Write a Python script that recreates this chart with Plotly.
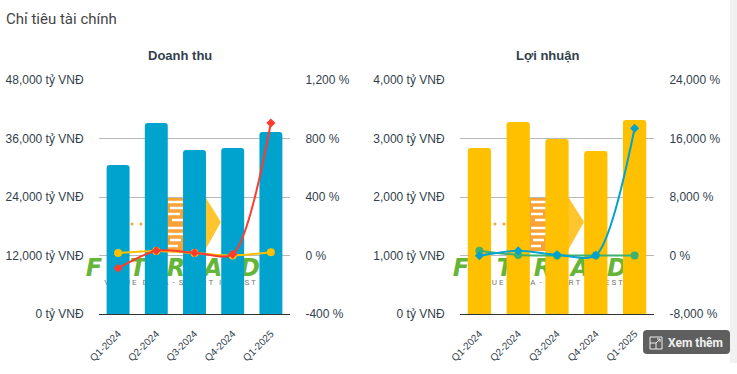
import plotly.graph_objects as go

W, H = 737, 374

categories = ["Q1-2024", "Q2-2024", "Q3-2024", "Q4-2024", "Q1-2025"]
revenue = [30560, 39180, 33640, 34050, 37330]
revenue_yoy_a = [17, 31, 17, 0, 22]
revenue_yoy_b = [-87, 33, 19, 8, 906]
profit = [2838, 3282, 2991, 2786, 3316]
profit_yoy_a = [656, 68, 0, 0, 0]
profit_yoy_b = [-30, 640, 90, 30, 17395]

rev_ticks = [0, 12000, 24000, 36000, 48000]
rev_ticktext = ["0 tỷ VNĐ", "12,000 tỷ VNĐ", "24,000 tỷ VNĐ", "36,000 tỷ VNĐ", "48,000 tỷ VNĐ"]
rev_pct_ticks = [-400, 0, 400, 800, 1200]
rev_pct_ticktext = ["-400 %", "0 %", "400 %", "800 %", "1,200 %"]
prof_ticks = [0, 1000, 2000, 3000, 4000]
prof_ticktext = ["0 tỷ VNĐ", "1,000 tỷ VNĐ", "2,000 tỷ VNĐ", "3,000 tỷ VNĐ", "4,000 tỷ VNĐ"]
prof_pct_ticks = [-8000, 0, 8000, 16000, 24000]
prof_pct_ticktext = ["-8,000 %", "0 %", "8,000 %", "16,000 %", "24,000 %"]

BLUE, AMBER, RED, GREEN = "#00A2CE", "#FFC000", "#FF3B30", "#3DB16F"
INK, GRID = "#333F4D", "#B8B8B8"
FONT = "Roboto"
AXFONT = "Liberation Sans"


def px(x):
    return x / W


def py(y):
    return 1 - y / H


fig = go.Figure()
lw = 2


def panel(xa, ya, ya2, bars, bar_col, a, a_col, a_sym, b, b_col, b_sym):
    fig.add_trace(go.Bar(x=categories, y=bars, xaxis=xa, yaxis=ya, width=0.6,
                         marker=dict(color=bar_col, cornerradius=3, line_width=0)))
    fig.add_trace(go.Scatter(x=categories, y=a, xaxis=xa, yaxis=ya2, mode="lines+markers",
                             line=dict(color=a_col, width=lw, shape="spline", smoothing=0.75),
                             marker=dict(color=a_col, size=8, symbol=a_sym)))
    fig.add_trace(go.Scatter(x=categories, y=b, xaxis=xa, yaxis=ya2, mode="lines+markers",
                             line=dict(color=b_col, width=lw, shape="spline", smoothing=0.75),
                             marker=dict(color=b_col, size=7, symbol=b_sym)))


panel("x", "y", "y2", revenue, BLUE, revenue_yoy_a, AMBER, "circle", revenue_yoy_b, RED, "diamond")
panel("x2", "y3", "y4", profit, AMBER, profit_yoy_a, GREEN, "circle", profit_yoy_b, BLUE, "diamond")

tick = dict(size=12, family=AXFONT, color=INK)
xcommon = dict(type="category", showgrid=False, zeroline=False, showline=True, linecolor="#333333",
               linewidth=1, ticks="outside", ticklen=9, tickcolor="rgba(0,0,0,0)", tickangle=-45,
               tickfont=dict(size=10, family=AXFONT, color=INK))
ycommon = dict(zeroline=False, showline=False, ticks="outside", ticklen=12,
               tickcolor="rgba(0,0,0,0)", tickfont=tick)
ydom = [py(314), py(80)]


def logo(tipdx, text_dx):
    shapes = []
    shapes.append(dict(type="rect", xref="paper", yref="paper", layer="below",
                       x0=px(150 + tipdx), x1=px(192 + tipdx), y0=py(198), y1=py(251),
                       fillcolor="#F9A237", line_width=0))
    shapes.append(dict(type="path", xref="paper", yref="paper", layer="below",
                       path=f"M {px(192 + tipdx)} {py(198)} L {px(206 + tipdx)} {py(198)} "
                            f"L {px(221 + tipdx)} {py(222)} L {px(204 + tipdx)} {py(252)} "
                            f"L {px(192 + tipdx)} {py(252)} Z",
                       fillcolor="#FFC52E", line_width=0))
    for y, x0, x1 in [(202, 168, 183), (208, 170, 183), (214, 168, 180), (220, 172, 183),
                      (228, 168, 183), (234, 168, 183), (240, 170, 181), (246, 168, 178)]:
        shapes.append(dict(type="line", xref="paper", yref="paper", layer="below",
                           x0=px(x0 + tipdx), x1=px(x1 + tipdx), y0=py(y), y1=py(y),
                           line=dict(color="white", width=2.5)))
    for x in (132, 141):
        shapes.append(dict(type="circle", xref="paper", yref="paper", layer="below",
                           x0=px(x - 1.5 + tipdx), x1=px(x + 1.5 + tipdx), y0=py(222.5), y1=py(225.5),
                           fillcolor="#F9A237", line_width=0))
    for x, ch in [(94, "F"), (138, "T"), (176, "R"), (213, "A"), (250, "D"), (268, "E")]:
        shapes.append(dict(type="rect", xref="paper", yref="paper", layer="below",
                           x0=px(x - 22 + text_dx), x1=px(x + 22 + text_dx), y0=py(257), y1=py(275),
                           line_width=0, fillcolor="rgba(0,0,0,0)",
                           label=dict(text=f"<b><i>{ch}</i></b>", xanchor="center", yanchor="middle",
                                      textposition="middle center",
                                      font=dict(size=24, family="DejaVu Sans", color="#66B53B"))))
    shapes.append(dict(type="rect", xref="paper", yref="paper", layer="below",
                       x0=px(95 + text_dx), x1=px(265 + text_dx), y0=py(276), y1=py(287),
                       line_width=0, fillcolor="rgba(0,0,0,0)",
                       label=dict(text="V A L U E   D A T A  -  S M A R T   I N V E S T",
                                  xanchor="center", yanchor="middle", textposition="middle center",
                                  font=dict(size=8, family=FONT, color="#777777"))))
    return shapes


shapes = logo(0, 0) + logo(363, 367)
shapes.append(dict(type="rect", xref="paper", yref="paper", layer="below",
                   x0=px(730), x1=1, y0=py(363), y1=1, fillcolor="#F1F1F1", line_width=0))
# Xem thêm button
bl, br, bt, bb, r = 643, 730, 330, 354, 4
shapes.append(dict(type="path", xref="paper", yref="paper", layer="above", fillcolor="#5F5F5F", line_width=0,
                   path=f"M {px(bl + r)} {py(bt)} L {px(br - r)} {py(bt)} Q {px(br)} {py(bt)} {px(br)} {py(bt + r)} "
                        f"L {px(br)} {py(bb - r)} Q {px(br)} {py(bb)} {px(br - r)} {py(bb)} "
                        f"L {px(bl + r)} {py(bb)} Q {px(bl)} {py(bb)} {px(bl)} {py(bb - r)} "
                        f"L {px(bl)} {py(bt + r)} Q {px(bl)} {py(bt)} {px(bl + r)} {py(bt)} Z"))
icon = [(650, 343, 650, 337), (650, 337, 662, 337), (662, 337, 662, 349), (662, 349, 656, 349),
        (650, 343, 656, 343), (656, 343, 656, 349), (656, 349, 650, 349), (650, 349, 650, 343),
        (656, 343, 660, 339), (657, 339, 660, 339), (660, 339, 660, 342)]
for x0, y0, x1, y1 in icon:
    shapes.append(dict(type="line", xref="paper", yref="paper", layer="above",
                       x0=px(x0), x1=px(x1), y0=py(y0), y1=py(y1), line=dict(color="#EDEDED", width=1)))

annotations = [
    dict(text="Chỉ tiêu tài chính", x=px(5), y=py(19), xanchor="left", yanchor="middle",
         font=dict(size=15, family=FONT, color="#444444")),
    dict(text="<b>Doanh thu</b>", x=px(180), y=py(56), xanchor="center", yanchor="middle",
         font=dict(size=13, family=AXFONT, color=INK)),
    dict(text="<b>Lợi nhuận</b>", x=px(547), y=py(56), xanchor="center", yanchor="middle",
         font=dict(size=13, family=AXFONT, color=INK)),
    dict(text="<b>Xem thêm</b>", x=px(695), y=py(343), xanchor="center", yanchor="middle",
         font=dict(size=12, family=FONT, color="#F0F0F0")),
]
for a in annotations:
    a.update(xref="paper", yref="paper", showarrow=False, borderpad=0)

fig.update_layout(
    width=W, height=H, margin=dict(l=0, r=0, t=0, b=0, pad=0, autoexpand=False), autosize=False,
    paper_bgcolor="white", plot_bgcolor="rgba(0,0,0,0)", showlegend=False, bargap=0.4,
    xaxis=dict(domain=[px(99), px(290)], anchor="y", **xcommon),
    xaxis2=dict(domain=[px(460), px(654)], anchor="y3", **xcommon),
    yaxis=dict(domain=ydom, anchor="x", range=[0, 48000], tickvals=rev_ticks, ticktext=rev_ticktext,
               showgrid=True, gridcolor=GRID, **ycommon),
    yaxis2=dict(domain=ydom, anchor="x", overlaying="y", side="right", range=[-400, 1200],
                tickvals=rev_pct_ticks, ticktext=rev_pct_ticktext, showgrid=False, **ycommon),
    yaxis3=dict(domain=ydom, anchor="x2", range=[0, 4000], tickvals=prof_ticks, ticktext=prof_ticktext,
                showgrid=True, gridcolor=GRID, **ycommon),
    yaxis4=dict(domain=ydom, anchor="x2", overlaying="y3", side="right", range=[-8000, 24000],
                tickvals=prof_pct_ticks, ticktext=prof_pct_ticktext, showgrid=False, **ycommon),
    shapes=shapes, annotations=annotations,
)

fig.write_html("out.html", config={"displayModeBar": False},
               post_script="document.body.style.margin='0';")
